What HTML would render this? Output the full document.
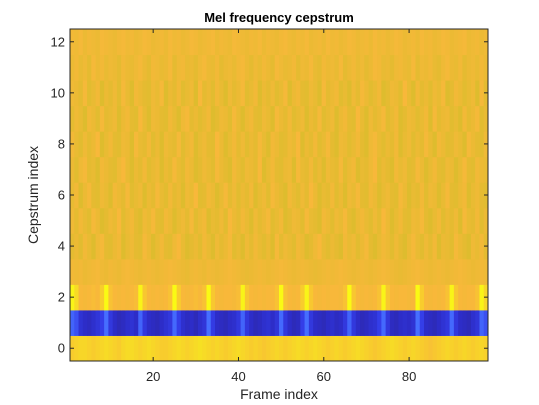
<!DOCTYPE html>
<html><head><meta charset="utf-8"><style>
html,body{margin:0;padding:0;background:#fff;width:539px;height:405px;overflow:hidden}
svg text{font-family:"Liberation Sans","DejaVu Sans",sans-serif;fill:#262626}
</style></head><body>
<svg id="chart" width="539" height="405" xmlns="http://www.w3.org/2000/svg">
<text x="279" y="22" text-anchor="middle" font-size="13" font-weight="bold" style="fill:#000">Mel frequency cepstrum</text>
<g id="cells"></g>
<g id="axes"></g>
<text x="279" y="399" text-anchor="middle" font-size="14">Frame index</text>
<text transform="translate(38,195) rotate(-90)" text-anchor="middle" font-size="14">Cepstrum index</text>
</svg>
<script>
const xTicks = [20, 40, 60, 80];
const yTicks = [0, 2, 4, 6, 8, 10, 12];
const row0 = [90,91,92,92,91,90,91,92,93,92,91,90,92,93,93,92,91,92,93,92,91,90,90,91,92,93,92,91,92,93,94,93,92,91,92,91,90,91,92,93,92,91,90,91,90,89,90,91,92,91,90,91,92,93,92,91,92,93,92,91,90,91,92,91,90,91,92,93,92,91,90,89,90,91,92,93,92,91,90,91,92,91,90,89,88,89,90,91,92,91,90,91,92,91,90,91,92,91];
const row1 = [22,18,10,8,7,9,11,14,24,12,8,6,7,9,10,8,22,12,8,7,6,8,10,12,23,14,9,7,8,6,9,11,24,13,8,7,6,8,9,12,22,12,8,6,7,9,10,8,11,23,12,8,6,7,14,24,12,8,7,6,8,9,7,8,12,22,12,8,6,7,9,10,14,23,12,7,6,8,9,8,10,24,14,8,7,6,8,10,12,23,12,8,7,6,9,11,22,18];
const row2 = [97,93,86,85,86,87,86,90,98,88,86,85,86,85,86,87,97,89,86,85,86,85,86,88,98,90,86,85,86,87,86,88,98,89,86,85,86,86,85,87,97,89,86,85,86,85,86,86,88,98,88,86,85,86,90,97,89,86,85,86,85,86,86,85,88,98,89,86,85,86,85,86,88,97,89,86,85,86,86,85,86,98,90,86,85,86,85,86,88,97,89,86,85,86,86,88,97,92];
const row3 = [84,83,84,82,83,84,85,83,82,84,83,82,84,85,84,83,82,83,84,83,82,83,84,85,84,83,82,81,83,84,83,82,84,83,82,83,84,85,84,83,82,81,82,83,84,83,82,83,84,85,84,83,82,83,84,83,82,81,82,83,84,83,84,85,84,83,82,83,84,83,82,83,84,85,84,83,82,81,82,83,84,85,84,83,82,83,84,83,82,83,84,85,84,83,82,83,84,83];
const row4 = [80,82,79,84,81,78,83,85,80,79,82,84,78,81,83,80,79,85,82,78,81,84,80,79,83,86,81,78,80,82,79,84,81,78,83,80,82,85,79,81,78,83,80,84,81,79,82,78,85,80,83,81,79,84,82,78,80,83,86,81,79,82,80,78,84,81,83,79,82,85,80,78,81,84,82,79,83,80,78,82,85,81,79,83,80,84,78,82,81,79,85,82,80,78,83,81,84,80];
const row5 = [83,80,84,81,79,85,82,78,80,83,81,86,79,82,84,80,78,83,81,85,80,79,84,82,78,81,83,80,85,79,82,84,78,81,80,83,79,86,82,80,84,81,78,83,80,82,85,79,81,84,78,80,83,82,79,85,81,80,78,84,82,79,83,81,85,80,78,82,84,81,79,83,80,86,82,78,81,84,80,79,83,82,85,80,78,81,84,79,82,80,83,78,85,81,80,84,79,82];
const row6 = [81,84,78,82,85,80,79,83,81,78,84,82,80,85,79,81,83,78,82,80,85,81,79,84,80,82,78,83,81,86,79,80,84,82,78,81,85,80,83,79,82,80,84,78,81,83,79,85,82,80,78,84,81,79,83,80,86,82,78,81,80,84,79,82,78,83,81,85,80,79,84,82,78,81,83,80,79,85,82,78,81,80,84,79,83,82,78,81,85,80,79,82,84,78,81,83,80,79];
const row7 = [82,79,83,85,80,81,78,84,82,80,79,83,86,81,78,82,80,84,79,81,83,78,82,80,85,81,79,84,82,78,80,83,81,79,85,82,80,78,84,81,79,83,82,80,86,78,81,84,80,79,82,83,78,85,81,80,84,79,82,78,83,81,80,85,79,82,84,78,81,80,83,86,79,82,80,78,84,81,83,79,80,85,82,78,81,84,80,79,83,82,78,81,85,80,79,84,82,81];
const row8 = [84,81,79,83,80,82,86,78,81,84,80,79,83,82,78,85,81,80,84,79,82,78,83,81,80,85,79,82,84,78,81,83,80,79,86,82,78,81,84,80,83,79,82,80,85,81,78,84,82,79,80,83,81,86,78,82,80,84,79,81,85,80,78,83,82,79,81,84,80,78,83,85,81,79,82,80,84,78,81,83,79,82,80,85,81,78,84,82,79,80,83,81,78,85,82,80,79,83];
const row9 = [80,83,81,78,84,82,79,85,80,81,83,78,82,84,80,79,86,81,78,83,82,80,79,84,81,78,83,85,80,82,79,81,84,78,80,83,82,79,85,81,78,82,84,80,79,83,81,78,85,82,80,84,79,81,83,78,82,80,85,79,81,83,78,82,84,80,79,86,81,78,83,80,82,85,79,81,84,78,80,83,82,79,81,84,78,85,80,82,83,79,81,78,84,80,82,85,79,81];
const row10 = [83,82,80,85,79,81,84,78,82,80,83,79,85,81,78,84,82,80,79,83,81,85,78,82,80,84,79,81,83,78,86,80,82,79,84,81,78,83,80,82,85,79,81,84,78,82,80,83,79,81,85,78,82,84,80,79,83,81,78,85,80,82,84,79,81,78,83,80,85,82,79,81,84,78,80,83,82,79,86,81,78,84,80,82,79,83,81,85,78,80,84,82,79,81,83,78,85,80];
const row11 = [82,84,81,83,80,85,82,84,81,83,82,80,84,82,81,83,85,82,80,84,83,81,82,85,80,83,84,81,82,80,83,85,82,81,84,80,82,83,81,84,85,82,80,83,81,84,82,80,85,83,81,82,84,80,83,82,85,81,80,84,82,83,81,85,80,82,84,81,83,80,82,85,84,81,82,80,83,84,82,81,85,80,83,82,84,81,80,83,85,82,81,84,80,82,83,81,84,82];
const row12 = [84,83,85,82,84,83,82,85,84,83,82,84,85,83,84,82,83,85,84,82,83,84,82,85,83,84,82,83,85,84,82,83,84,85,82,84,83,82,85,84,83,82,84,83,85,82,84,83,82,84,85,83,82,84,83,85,82,83,84,82,85,83,84,82,83,85,84,82,83,84,82,85,83,84,82,83,85,84,82,83,84,82,85,83,84,82,83,85,84,82,83,84,85,82,83,84,82,83];
const rows = [row0,row1,row2,row3,row4,row5,row6,row7,row8,row9,row10,row11,row12];

const L=70,R=488,T=29,B=361;
const nF=row0.length, nR=rows.length;
const xs = f => L + (f-0.5)*(R-L)/nF;
const ys = r => B - (r+0.5)*(B-T)/nR;
const cw=(R-L)/nF, ch=(B-T)/nR;
const stops=[[0,[45,35,140]],[8,[45,45,200]],[14,[52,62,232]],[24,[70,110,255]],[50,[30,175,200]],[70,[170,190,70]],[78,[222,188,46]],[82,[236,186,52]],[86,[248,184,58]],[90,[248,204,45]],[94,[246,224,35]],[98,[250,250,20]],[100,[250,251,14]]];
function cmap(v){
  for(let i=1;i<stops.length;i++){ if(v<=stops[i][0]){ const a=stops[i-1],b=stops[i]; const t=(v-a[0])/(b[0]-a[0]);
    return 'rgb('+a[1].map((c,k)=>Math.round(c+(b[1][k]-c)*t)).join(',')+')'; } }
  return 'rgb(250,251,14)';
}
const NS='http://www.w3.org/2000/svg';
const cells=document.getElementById('cells');
rows.forEach((row,r)=>{ row.forEach((v,i)=>{
  const el=document.createElementNS(NS,'rect');
  
  
  el.setAttribute('x',(xs(i+1)-cw/2).toFixed(2));
  el.setAttribute('y',(ys(r)-ch/2).toFixed(2));
  el.setAttribute('width',(cw+0.5).toFixed(2));
  el.setAttribute('height',(ch+0.5).toFixed(2));
  el.setAttribute('fill',cmap(v));
  cells.appendChild(el);
});});
const axes=document.getElementById('axes');
function add(tag,attrs,name,txt){const e=document.createElementNS(NS,tag);for(const k in attrs)e.setAttribute(k,attrs[k]);
  
  
  if(txt!==undefined)e.textContent=txt;axes.appendChild(e);return e;}
add('rect',{x:L,y:T,width:R-L,height:B-T,fill:'none',stroke:'#262626','stroke-width':1},'plot-frame');
xTicks.forEach(t=>{const x=xs(t);
  add('line',{x1:x,x2:x,y1:B,y2:B-4,stroke:'#262626'},'x-tick');
  add('line',{x1:x,x2:x,y1:T,y2:T+4,stroke:'#262626'},'x-tick-top');
  add('text',{x:x,y:381,'text-anchor':'middle','font-size':13},'x-tick-label',String(t));});
yTicks.forEach(t=>{const y=ys(t);
  add('line',{x1:L,x2:L+4,y1:y,y2:y,stroke:'#262626'},'y-tick');
  add('line',{x1:R,x2:R-4,y1:y,y2:y,stroke:'#262626'},'y-tick-right');
  add('text',{x:65,y:y+4.5,'text-anchor':'end','font-size':13},'y-tick-label',String(t));});
</script>
</body></html>
